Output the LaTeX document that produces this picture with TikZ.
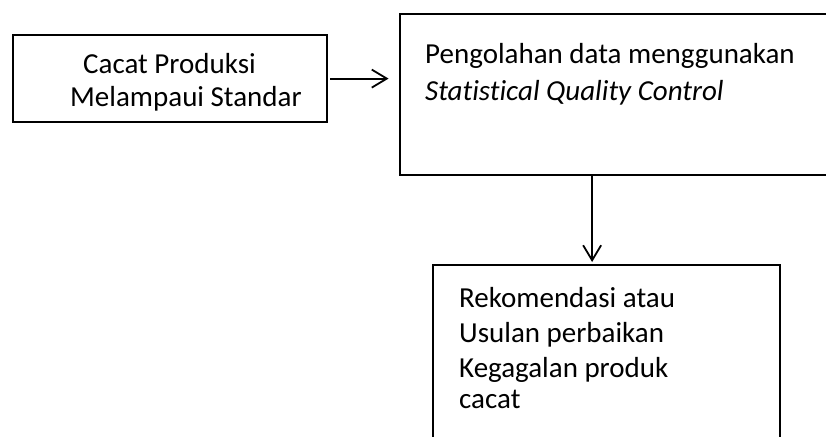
\documentclass[tikz,border=0pt]{standalone}
\usepackage{fontspec}
\setmainfont[Ligatures=NoCommon]{Carlito}
\usetikzlibrary{arrows.meta}
\definecolor{myblack}{RGB}{0,0,0}
\newcommand*{\mytextstyle}[1]{\normalfont\fontsize{29}{#1}\selectfont\color{myblack}}

\tikzset{
   flowbox/.style = {
      draw = myblack,
      line width = 2.2pt,
      rectangle,
      anchor = north west,
      inner sep = 0pt
   },
   flowtext/.style = {
      anchor = base west,
      inner sep = 0pt,
      align = left
   },
   flowarrow/.style = {
      draw = myblack,
      line width = 1.8pt,
      -{Straight Barb[length=15pt,width=18pt]}
   }
}

\begin{document}
\begin{tikzpicture}[x=1pt,y=-1pt]
   \useasboundingbox (0,0) rectangle (826,436);
   \clip (0,0) rectangle (826,436);

   % boxes
   \node (defect)    at (11.5,34)   [flowbox, minimum width=314.5pt, minimum height=87pt]{};
   \node (process)   at (398.5,13)  [flowbox, minimum width=500pt,   minimum height=161pt]{};
   \node (recommend) at (432,263.5) [flowbox, minimum width=347pt,   minimum height=250pt]{};

   % texts (anchored at the baseline of the last line)
   \node (defecttext) at (70,106) [flowtext, font=\mytextstyle{33}]{
      \hspace*{13pt}Cacat Produksi\\
      Melampaui Standar
   };
   \node (processtext) at (425,100) [flowtext, font=\mytextstyle{37}]{
      Pengolahan data menggunakan\\
      \textit{Statistical Quality Control}
   };
   \node (recommendtext) at (459,408) [flowtext, font=\mytextstyle{31}]{
      Rekomendasi atau\\[4pt]
      Usulan perbaikan\\[4pt]
      Kegagalan produk\\
      cacat
   };

   % connectors
   \draw[flowarrow] ([xshift=2pt]defect.east) -- ([xshift=-10pt]defect.east -| process.west);
   \draw[flowarrow] ([xshift=-14.5pt]recommend.north |- process.south)
      -- ([xshift=-14.5pt,yshift=1.5pt]recommend.north);
\end{tikzpicture}
\end{document}
